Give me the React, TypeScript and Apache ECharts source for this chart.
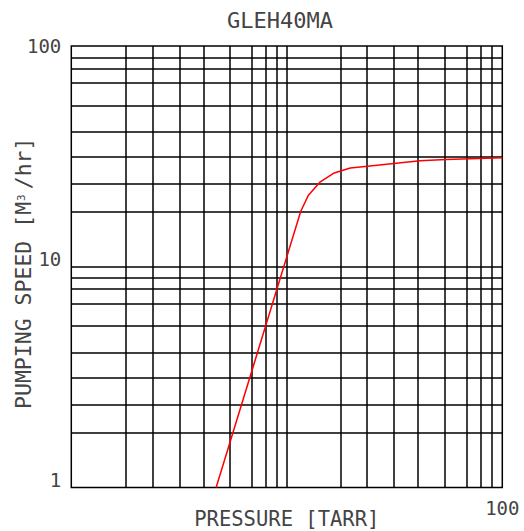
import { useEffect, useRef } from "react";
import * as echarts from "echarts";

const chartTitle = "GLEH40MA";
const xAxisName = "PRESSURE [TARR]";
const yAxisNameRich = "{n|PUMPING SPEED [M}{s|3}{n|/hr]}";

const xMin = 1;
const xMax = 100;
const yMin = 1;
const yMax = 100;

// grid lines as drawn in the reference (values on the log axes)
const xGridValues = [1.78, 2.38, 3.19, 4.12, 5.43, 6.9, 7.95, 8.98, 10, 17.8, 23.6, 31.5, 40.7, 54.3, 68.1, 79.1, 89.3];
const yGridValues = [1.77, 2.36, 3.14, 4.08, 5.41, 6.81, 7.94, 8.91, 10, 17.8, 23.7, 31.6, 40.7, 53.7, 68.5, 78.9, 88.3];

const xTickLabels = [100];
const yTickLabels = [1, 10, 100];

// pumping speed curve
const pressure = [4.7, 11.6, 12.6, 14.2, 16.6, 19.7, 24.3, 41.5, 54.8, 100];
const speed = [1, 17.8, 21.1, 24.1, 26.6, 28.0, 28.6, 30.2, 30.6, 31.2];

const FONT = "'DejaVu Sans Mono', monospace";
const TEXT_COLOR = "#444";

function isTick(v: number, list: number[]) {
  return list.some((t) => Math.abs(v - t) < t * 1e-6);
}

export default function App() {
  const ref = useRef<HTMLDivElement>(null);

  useEffect(() => {
    if (!ref.current) return;
    const chart = echarts.init(ref.current, undefined, { renderer: "svg" });

    const gridLines = [
      ...xGridValues.map((v) => ({ coords: [[v, yMin], [v, yMax]] })),
      ...yGridValues.map((v) => ({ coords: [[xMin, v], [xMax, v]] })),
    ];

    chart.setOption({
      animation: false,
      backgroundColor: "#fff",
      title: {
        text: chartTitle,
        left: 227,
        top: 9,
        padding: 0,
        textStyle: {
          fontFamily: FONT,
          fontSize: 22,
          fontWeight: "normal",
          color: TEXT_COLOR,
        },
      },
      grid: {
        left: 71.3,
        right: 21.7,
        top: 46,
        bottom: 43.5,
        show: true,
        borderColor: "#000",
        borderWidth: 1.5,
        backgroundColor: "transparent",
        containLabel: false,
        outerBoundsMode: "none",
      },
      xAxis: {
        type: "log",
        logBase: 10,
        min: xMin,
        max: xMax,
        name: xAxisName,
        nameLocation: "middle",
        nameGap: 22,
        nameMoveOverlap: false,
        nameTextStyle: {
          fontFamily: FONT,
          fontSize: 20.5,
          lineHeight: 18,
          color: TEXT_COLOR,
        },
        axisLine: { show: false },
        axisTick: { show: false },
        splitLine: { show: false },
        minorTick: { show: false },
        minorSplitLine: { show: false },
        axisLabel: {
          margin: 11,
          fontFamily: FONT,
          fontSize: 19,
          color: TEXT_COLOR,
          showMinLabel: true,
          showMaxLabel: true,
          formatter: (v: number) => (isTick(v, xTickLabels) ? String(Math.round(v)) : ""),
        },
      },
      yAxis: {
        type: "log",
        logBase: 10,
        min: yMin,
        max: yMax,
        name: yAxisNameRich,
        nameLocation: "middle",
        nameGap: 37,
        nameMoveOverlap: false,
        nameTextStyle: {
          padding: [0, 13, 0, 0],
          rich: {
            n: { fontFamily: FONT, fontSize: 21.5, color: TEXT_COLOR },
            s: { fontFamily: FONT, fontSize: 11, color: TEXT_COLOR, verticalAlign: "top", padding: [4, 5, 0, 1] },
          },
        },
        axisLine: { show: false },
        axisTick: { show: false },
        splitLine: { show: false },
        minorTick: { show: false },
        minorSplitLine: { show: false },
        axisLabel: {
          margin: 10,
          showMinLabel: true,
          showMaxLabel: true,
          formatter: (v: number) => {
            if (!isTick(v, yTickLabels)) return "";
            const s = String(Math.round(v));
            return v >= yMax * 0.999 ? `{a|${s}}` : `{b|${s}}`;
          },
          rich: {
            a: { fontFamily: FONT, fontSize: 19, color: TEXT_COLOR },
            b: { fontFamily: FONT, fontSize: 19, color: TEXT_COLOR, padding: [0, 0, 15, 0] },
          },
        },
      },
      series: [
        {
          type: "lines",
          coordinateSystem: "cartesian2d",
          polyline: false,
          silent: true,
          z: 1,
          lineStyle: { color: "#000", width: 1.5, opacity: 1, curveness: 0 },
          data: gridLines,
        },
        {
          type: "line",
          z: 3,
          symbol: "none",
          silent: true,
          lineStyle: { color: "#ff0000", width: 1.5 },
          data: pressure.map((p, i) => [p, speed[i]]),
        },
      ],
    });

    return () => chart.dispose();
  }, []);

  return (
    <div
      ref={ref}
      style={{ position: "fixed", left: 0, top: 0, width: 524, height: 531 }}
    />
  );
}
